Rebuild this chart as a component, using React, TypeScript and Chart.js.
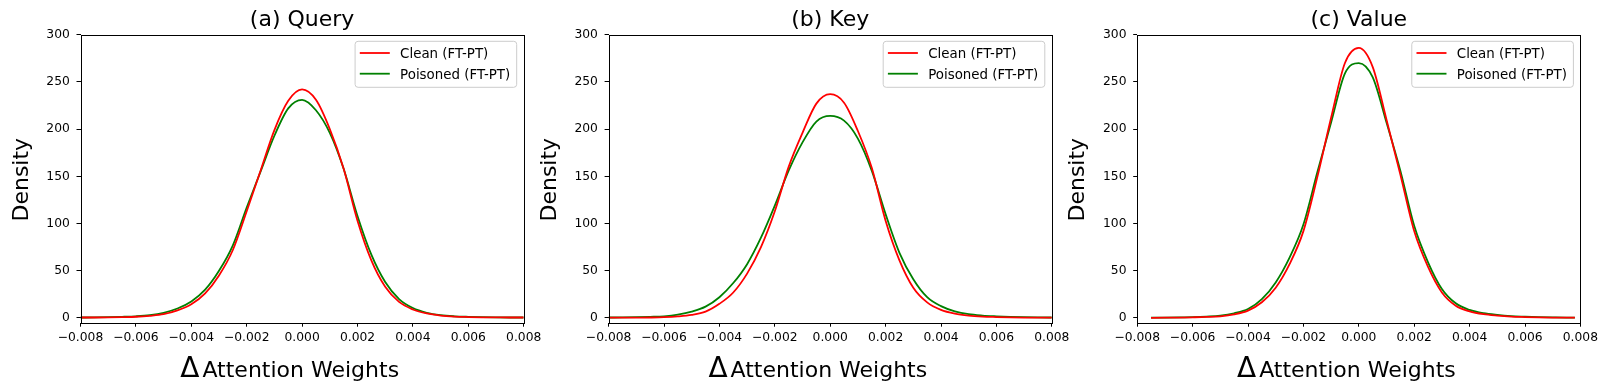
import React, { useEffect, useRef } from "react";
import { Chart, registerables } from "chart.js";

Chart.register(...registerables);

// ---------------- DATA ----------------
const xGridFull = [
  -0.008, -0.0075, -0.007, -0.0065, -0.006, -0.0055, -0.005, -0.0045, -0.004, -0.0035, -0.003,
  -0.0025, -0.002, -0.0015, -0.001, -0.0005, 0, 0.0005, 0.001, 0.0015, 0.002, 0.0025, 0.003,
  0.0035, 0.004, 0.0045, 0.005, 0.0055, 0.006, 0.0065, 0.007, 0.0075, 0.008,
];
const xGridValue = [
  -0.0075, -0.007, -0.0065, -0.006, -0.0055, -0.005, -0.0045, -0.004, -0.0035, -0.003,
  -0.0025, -0.002, -0.0015, -0.001, -0.0005, 0, 0.0005, 0.001, 0.0015, 0.002, 0.0025, 0.003,
  0.0035, 0.004, 0.0045, 0.005, 0.0055, 0.006, 0.0065, 0.007, 0.0075, 0.0078,
];

const queryClean = [
  0.5, 0.5, 0.6, 0.9, 1.3, 2.3, 4, 8, 14.5, 26, 45, 72, 113, 156, 199, 230, 242, 231, 200, 158,
  103, 61, 33, 17, 9, 4.8, 2.6, 1.5, 1, 0.7, 0.6, 0.5, 0.5,
];
const queryPoisoned = [
  0.5, 0.6, 0.8, 1.2, 1.8, 3, 5.5, 10, 17.5, 30, 50, 77, 117, 155, 193, 222, 231, 220, 196, 158,
  108, 67, 38, 20, 10.5, 5.5, 3, 1.8, 1.2, 0.8, 0.6, 0.5, 0.5,
];
const keyClean = [
  0.3, 0.3, 0.4, 0.5, 0.8, 1.6, 3.2, 6.7, 15, 27, 47, 75, 113, 160, 196, 227, 237, 228, 198, 159,
  103, 61, 32, 16.5, 8.5, 4.5, 2.5, 1.5, 1, 0.6, 0.4, 0.3, 0.3,
];
const keyPoisoned = [
  0.5, 0.6, 0.8, 1.2, 1.8, 3.5, 6.7, 12, 22, 37, 57, 85, 119, 156, 186, 208, 214, 209, 190, 156,
  110, 69, 41, 22, 12.5, 7, 4, 2.6, 1.8, 1.2, 0.8, 0.6, 0.5,
];
const valueClean = [
  0.2, 0.3, 0.4, 0.7, 1.1, 1.8, 3.8, 7.8, 16.6, 32, 57, 92, 149, 212, 270, 286, 266, 210, 152, 92,
  54, 27, 13, 7, 4, 2.5, 1.5, 1, 0.6, 0.4, 0.3, 0.3,
];
const valuePoisoned = [
  0.3, 0.4, 0.6, 0.9, 1.5, 2.5, 5, 9.5, 20, 37.7, 64, 99, 154, 207, 259, 270, 255, 207, 156, 97.6,
  59, 30.7, 15.5, 8.5, 5, 3.2, 2, 1.4, 0.9, 0.6, 0.4, 0.4,
];

const panelTitles = ["(a) Query", "(b) Key", "(c) Value"];
const seriesLabels = ["Clean (FT-PT)", "Poisoned (FT-PT)"];
const yAxisLabel = "Density";
const xAxisDelta = "Δ";
const xAxisLabel = "Attention Weights";
const xTickMin = -0.008;
const xTickMax = 0.008;
const xTickStep = 0.002;
const yTickMin = -5;
const yTickMax = 300;
const yTickStep = 50;

const panels = [
  { title: panelTitles[0], x: xGridFull, clean: queryClean, poisoned: queryPoisoned },
  { title: panelTitles[1], x: xGridFull, clean: keyClean, poisoned: keyPoisoned },
  { title: panelTitles[2], x: xGridValue, clean: valueClean, poisoned: valuePoisoned },
];

// ---------------- LAYOUT / STYLE ----------------
const FONT = '"DejaVu Sans", "Liberation Sans", sans-serif';
const COLORS = ["#ff0000", "#008000"];
const PLOT_LEFTS = [80.5, 608.6, 1137.2];
const PLOT_W = 443.2;
const PLOT_TOP = 34.7;
const PLOT_BOTTOM = 322.7;
const FIG_W = 1609;
const FIG_H = 390;
const Y_AXIS_W = 80;
const RIGHT_PAD = 28;
const TICK_FONT = 12.3;
const TICK_LEN = 4;

function fmtX(v: number) {
  let n = Number(v);
  if (Math.abs(n) < 1e-12) n = 0;
  const s = n.toFixed(3);
  return s.startsWith("-") ? "\u2212" + s.slice(1) : s;
}

const decoPlugin = {
  id: "deco",
  afterDraw(chart: any, _args: any, opts: any) {
    const { ctx, chartArea: a } = chart;
    ctx.save();
    // frame
    ctx.strokeStyle = "#000";
    ctx.lineWidth = 1;
    const l = Math.round(a.left) + 0.5;
    const r = Math.round(a.right) + 0.5;
    const t = Math.round(a.top) + 0.5;
    const b = Math.round(a.bottom) + 0.5;
    ctx.strokeRect(l, t, r - l, b - t);

    ctx.fillStyle = "#000";
    // title
    ctx.font = `22px ${FONT}`;
    ctx.textAlign = "center";
    ctx.textBaseline = "alphabetic";
    ctx.fillText(opts.title, (a.left + a.right) / 2, 26);

    // y label
    ctx.save();
    ctx.translate(a.left - 53, (a.top + a.bottom) / 2 + 1);
    ctx.rotate(-Math.PI / 2);
    ctx.textAlign = "center";
    ctx.fillText(yAxisLabel, 0, 0);
    ctx.restore();

    // x label
    ctx.font = `28px ${FONT}`;
    const wD = ctx.measureText(xAxisDelta).width;
    ctx.font = `22px ${FONT}`;
    const wR = ctx.measureText(xAxisLabel).width;
    const gap = 3;
    const total = wD + gap + wR;
    const sx = (a.left + a.right) / 2 - 12.4 - total / 2;
    ctx.textAlign = "left";
    ctx.font = `28px ${FONT}`;
    ctx.fillText(xAxisDelta, sx, 376.7);
    ctx.font = `22px ${FONT}`;
    ctx.fillText(xAxisLabel, sx + wD + gap, 376.5);

    // legend
    ctx.font = `13.4px ${FONT}`;
    const tw = Math.max(...seriesLabels.map((s) => ctx.measureText(s).width));
    const boxW = 45 + tw + 6.5;
    const boxH = 46;
    const boxRight = a.right - 7;
    const boxLeft = boxRight - boxW;
    const boxTop = a.top + 6.6;
    ctx.beginPath();
    if ((ctx as any).roundRect) (ctx as any).roundRect(boxLeft, boxTop, boxW, boxH, 3);
    else ctx.rect(boxLeft, boxTop, boxW, boxH);
    ctx.fillStyle = "rgba(255,255,255,0.8)";
    ctx.fill();
    ctx.strokeStyle = "#cccccc";
    ctx.lineWidth = 1;
    ctx.stroke();
    seriesLabels.forEach((lab, i) => {
      const ry = boxTop + 11.7 + i * 20.7;
      ctx.beginPath();
      ctx.moveTo(boxLeft + 4.7, ry);
      ctx.lineTo(boxLeft + 34.7, ry);
      ctx.strokeStyle = COLORS[i];
      ctx.lineWidth = 1.8;
      ctx.stroke();
      ctx.fillStyle = "#000";
      ctx.textAlign = "left";
      ctx.textBaseline = "alphabetic";
      ctx.fillText(lab, boxLeft + 45, ry + 5.3);
    });
    ctx.restore();
  },
};

function Panel({ idx }: { idx: number }) {
  const ref = useRef<HTMLCanvasElement | null>(null);
  const p = panels[idx];
  const plotLeft = PLOT_LEFTS[idx];
  const plotRight = plotLeft + PLOT_W;
  const canvasLeft = Math.floor(plotLeft - Y_AXIS_W);
  const canvasRight = Math.min(FIG_W, Math.ceil(plotRight + RIGHT_PAD));
  const cw = canvasRight - canvasLeft;

  useEffect(() => {
    if (!ref.current) return;
    const toPts = (ys: number[]) => p.x.map((x, i) => ({ x, y: ys[i] }));
    const chart = new Chart(ref.current, {
      type: "line",
      data: {
        datasets: [
          {
            label: seriesLabels[0],
            data: toPts(p.clean),
            borderColor: COLORS[0],
            borderWidth: 1.8,
            pointRadius: 0,
            cubicInterpolationMode: "monotone",
            fill: false,
          },
          {
            label: seriesLabels[1],
            data: toPts(p.poisoned),
            borderColor: COLORS[1],
            borderWidth: 1.8,
            pointRadius: 0,
            cubicInterpolationMode: "monotone",
            fill: false,
          },
        ],
      },
      options: {
        responsive: false,
        animation: false,
        devicePixelRatio: 1,
        events: [],
        layout: {
          padding: {
            left: plotLeft - Y_AXIS_W - canvasLeft,
            right: canvasRight - plotRight,
            top: PLOT_TOP,
            bottom: 0,
          },
        },
        plugins: {
          legend: { display: false },
          title: { display: false },
          tooltip: { enabled: false },
          deco: { title: p.title },
        } as any,
        scales: {
          x: {
            type: "linear",
            min: xTickMin,
            max: xTickMax,
            afterFit: (s: any) => {
              s.height = FIG_H - PLOT_BOTTOM;
            },
            ticks: {
              stepSize: xTickStep,
              maxRotation: 0,
              minRotation: 0,
              autoSkip: false,
              padding: 4,
              color: "#000",
              font: { family: FONT, size: TICK_FONT },
              callback: (v: any) => fmtX(v),
            },
            grid: {
              drawOnChartArea: false,
              drawTicks: true,
              tickLength: TICK_LEN,
              color: "#000",
              lineWidth: 1,
            },
            border: { display: false },
          },
          y: {
            type: "linear",
            min: yTickMin,
            max: yTickMax,
            afterFit: (s: any) => {
              s.width = Y_AXIS_W;
            },
            ticks: {
              stepSize: yTickStep,
              includeBounds: false,
              padding: 6.7,
              color: "#000",
              font: { family: FONT, size: TICK_FONT },
            },
            grid: {
              drawOnChartArea: false,
              drawTicks: true,
              tickLength: TICK_LEN,
              color: "#000",
              lineWidth: 1,
            },
            border: { display: false },
          },
        },
      },
      plugins: [decoPlugin],
    } as any);
    return () => chart.destroy();
  }, [idx]);

  return (
    <canvas
      ref={ref}
      width={cw}
      height={FIG_H}
      style={{ position: "absolute", left: canvasLeft, top: 0, width: cw, height: FIG_H }}
    />
  );
}

export default function App() {
  return (
    <div
      style={{
        position: "absolute",
        left: 0,
        top: 0,
        width: FIG_W,
        height: FIG_H,
        background: "#fff",
        overflow: "hidden",
      }}
    >
      <Panel idx={0} />
      <Panel idx={1} />
      <Panel idx={2} />
    </div>
  );
}
